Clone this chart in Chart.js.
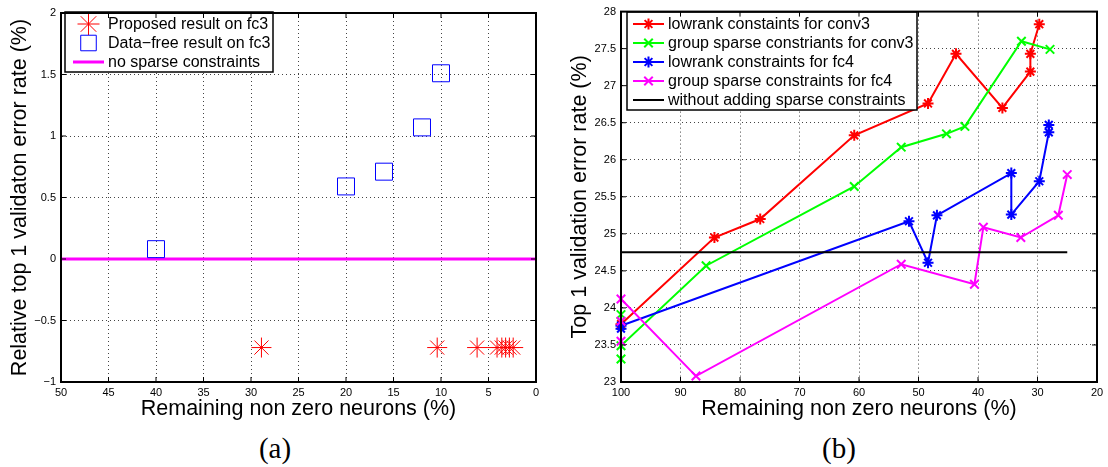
<!DOCTYPE html>
<html>
<head>
<meta charset="utf-8">
<script src="https://cdn.jsdelivr.net/npm/chart.js@4.4.1/dist/chart.umd.min.js"></script>
<style>
  body { margin: 0; width: 1108px; height: 467px; background: #fff; position: relative; overflow: hidden; }
  .wrap { position: absolute; top: 0; height: 425px; }
  #wrapA { left: 0; width: 552px; }
  #wrapB { left: 560px; width: 548px; }
  .cap { position: absolute; top: 432px; width: 80px; text-align: center; font-family: "Liberation Serif", "DejaVu Serif", serif; font-size: 29px; color: #000; }
</style>
</head>
<body>
<div class="wrap" id="wrapA"><canvas id="chartA"></canvas></div>
<div class="wrap" id="wrapB"><canvas id="chartB"></canvas></div>
<div class="cap" style="left:235px">(a)</div>
<div class="cap" style="left:799px">(b)</div>
<script>
// (a) fc3 results
const proposedX = [28.9, 10.4, 6.2, 4.1, 3.6, 3.2, 2.8, 2.4];
const proposedY = [-0.72, -0.72, -0.72, -0.72, -0.72, -0.72, -0.72, -0.72];
const dataFreeX = [40, 20, 16, 12, 10];
const dataFreeY = [0.08, 0.59, 0.71, 1.07, 1.51];
const baseAX = [50, 0];
const baseAY = [0, 0];

// (b) conv3 / fc4 results
const lowConv3X = [100, 84.3, 76.6, 60.8, 48.4, 43.7, 35.9, 31.2, 31.2, 29.7];
const lowConv3Y = [23.78, 24.95, 25.2, 26.33, 26.76, 27.43, 26.7, 27.19, 27.43, 27.83];
const grpConv3X = [100, 100, 100, 85.7, 60.8, 52.9, 45.3, 42.2, 32.7, 27.9];
const grpConv3Y = [23.91, 23.31, 23.49, 24.57, 25.64, 26.17, 26.35, 26.45, 27.6, 27.49];
const lowFc4X = [100, 100, 51.6, 48.4, 46.9, 34.4, 34.4, 29.7, 28.1, 28.1];
const lowFc4Y = [23.72, 23.76, 25.17, 24.61, 25.25, 25.82, 25.26, 25.71, 26.37, 26.47];
const grpFc4X = [100, 100, 100, 87.4, 52.9, 40.6, 39.1, 32.8, 26.5, 25.0];
const grpFc4Y = [23.55, 23.82, 24.12, 23.08, 24.59, 24.32, 25.09, 24.95, 25.25, 25.8];
const noSparseX = [100, 25];
const noSparseY = [24.75, 24.75];

const toPts = (xs, ys) => xs.map((x, i) => ({ x: x, y: ys[i] }));
const fmtTick = v => (v < 0 ? '\u2212' + Math.abs(v) : String(v));

Chart.defaults.font.family = '"Liberation Sans", Arial, sans-serif';
Chart.defaults.color = '#000';

// box + inward ticks on all four sides, matlab style
const framePlugin = {
  id: 'frame',
  afterDraw(chart) {
    const { ctx, chartArea: a, scales } = chart;
    ctx.save();
    ctx.strokeStyle = '#000';
    ctx.lineWidth = 2;
    ctx.strokeRect(a.left, a.top, a.right - a.left, a.bottom - a.top);
    ctx.lineWidth = 1;
    ctx.beginPath();
    scales.x.ticks.forEach(t => {
      const px = scales.x.getPixelForValue(t.value);
      ctx.moveTo(px, a.bottom); ctx.lineTo(px, a.bottom - 5);
      ctx.moveTo(px, a.top); ctx.lineTo(px, a.top + 5);
    });
    scales.y.ticks.forEach(t => {
      const py = scales.y.getPixelForValue(t.value);
      ctx.moveTo(a.left, py); ctx.lineTo(a.left + 5, py);
      ctx.moveTo(a.right, py); ctx.lineTo(a.right - 5, py);
    });
    ctx.stroke();
    ctx.restore();
  }
};

// legend box inside the plot, built from the datasets
function boxLegend(box) {
  return {
    id: 'boxLegend',
    afterDatasetsDraw(chart) {
      const ctx = chart.ctx;
      const sets = chart.data.datasets;
      ctx.save();
      ctx.fillStyle = '#fff';
      ctx.fillRect(box.x, box.y, box.w, box.h);
      ctx.strokeStyle = '#000';
      ctx.lineWidth = 1.5;
      ctx.strokeRect(box.x, box.y, box.w, box.h);
      ctx.font = box.font;
      ctx.textBaseline = 'middle';
      sets.forEach((ds, i) => {
        const y = box.row0 + box.rowGap * i;
        if (ds.showLine) {
          ctx.strokeStyle = ds.borderColor;
          ctx.lineWidth = ds.borderWidth;
          ctx.beginPath();
          ctx.moveTo(box.lineX0, y);
          ctx.lineTo(box.lineX1, y);
          ctx.stroke();
        }
        if (ds.pointRadius > 0) {
          ctx.strokeStyle = ds.borderColor;
          ctx.fillStyle = 'rgba(0,0,0,0)';
          ctx.lineWidth = ds.pointBorderWidth;
          Chart.helpers.drawPoint(ctx, {
            pointStyle: ds.pointStyle, radius: box.markR || ds.pointRadius,
            borderWidth: ds.pointBorderWidth, rotation: 0
          }, (box.lineX0 + box.lineX1) / 2, y);
        }
        ctx.fillStyle = '#000';
        ctx.fillText(ds.label, box.textX, y + 1);
      });
      ctx.restore();
    }
  };
}

function axisOpts(min, max, step, title, fitW, fitH, isX) {
  return {
    type: 'linear', min: min, max: max, reverse: isX,
    ticks: { stepSize: step, color: '#000', font: { size: 11 }, padding: isX ? 4 : 5,
      maxRotation: 0, autoSkip: false, callback: fmtTick },
    grid: { color: '#444', lineWidth: 1, drawTicks: false },
    border: { display: true, color: '#000', width: 2, dash: [1, 3] },
    title: { display: true, text: title, color: '#000', font: { size: 21.5 },
      padding: isX ? { top: 0, bottom: 3 } : { top: 7, bottom: 0 } },
    afterFit: s => { if (isX) s.height = fitH; else s.width = fitW; }
  };
}

function lineSet(label, xs, ys, color, style, r, order) {
  return {
    label: label, data: toPts(xs, ys), showLine: true,
    borderColor: color, backgroundColor: color, borderWidth: 2,
    pointStyle: style, pointRadius: r, pointBorderWidth: 2,
    pointBorderColor: color, pointBackgroundColor: color,
    clip: false, order: order
  };
}

new Chart(document.getElementById('chartA'), {
  type: 'scatter',
  data: {
    datasets: [
      { label: 'Proposed result on fc3', data: toPts(proposedX, proposedY), showLine: false,
        borderColor: '#ff0000', pointStyle: 'star', pointRadius: 10, pointBorderWidth: 1,
        pointBorderColor: '#ff0000', pointBackgroundColor: 'rgba(0,0,0,0)', clip: false },
      { label: 'Data\u2212free result on fc3', data: toPts(dataFreeX, dataFreeY), showLine: false,
        borderColor: '#0000ff', pointStyle: 'rect', pointRadius: 12, pointBorderWidth: 1,
        pointBorderColor: '#0000ff', pointBackgroundColor: 'rgba(0,0,0,0)', clip: false },
      { label: 'no sparse constraints', data: toPts(baseAX, baseAY), showLine: true,
        borderColor: '#ff00ff', borderWidth: 3, pointRadius: 0, pointBorderWidth: 0 }
    ]
  },
  options: {
    animation: false, responsive: true, maintainAspectRatio: false,
    layout: { padding: { top: 6, right: 16, bottom: 0, left: 0 } },
    plugins: { legend: { display: false }, tooltip: { enabled: false } },
    scales: {
      x: axisOpts(0, 50, 5, 'Remaining non zero neurons (%)', 0, 43, true),
      y: axisOpts(-1, 2, 0.5, 'Relative top 1 validaton error rate (%)', 61, 0, false)
    }
  },
  plugins: [framePlugin, boxLegend({ x: 65, y: 12, w: 208, h: 60, row0: 24, rowGap: 19,
    lineX0: 73, lineX1: 104, textX: 108, markR: 11, font: '16px "Liberation Sans", Arial, sans-serif' })]
});

new Chart(document.getElementById('chartB'), {
  type: 'scatter',
  data: {
    datasets: [
      lineSet('lowrank constaints for conv3', lowConv3X, lowConv3Y, '#ff0000', 'star', 5.5, 5),
      lineSet('group sparse constriants for conv3', grpConv3X, grpConv3Y, '#00ff00', 'crossRot', 6, 4),
      lineSet('lowrank constraints for fc4', lowFc4X, lowFc4Y, '#0000ff', 'star', 5.5, 3),
      lineSet('group sparse constraints for fc4', grpFc4X, grpFc4Y, '#ff00ff', 'crossRot', 6, 2),
      lineSet('without adding sparse constraints', noSparseX, noSparseY, '#000000', 'circle', 0, 1)
    ]
  },
  options: {
    animation: false, responsive: true, maintainAspectRatio: false,
    layout: { padding: { top: 6, right: 11, bottom: 0, left: 0 } },
    plugins: { legend: { display: false }, tooltip: { enabled: false } },
    scales: {
      x: axisOpts(20, 100, 10, 'Remaining non zero neurons (%)', 0, 43, true),
      y: axisOpts(23, 28, 0.5, 'Top 1 validation error rate (%)', 61, 0, false)
    }
  },
  plugins: [framePlugin, boxLegend({ x: 67, y: 12, w: 290, h: 98, row0: 24, rowGap: 19,
    lineX0: 73, lineX1: 104, textX: 108, font: '16px "Liberation Sans", Arial, sans-serif' })]
});
</script>
</body>
</html>
